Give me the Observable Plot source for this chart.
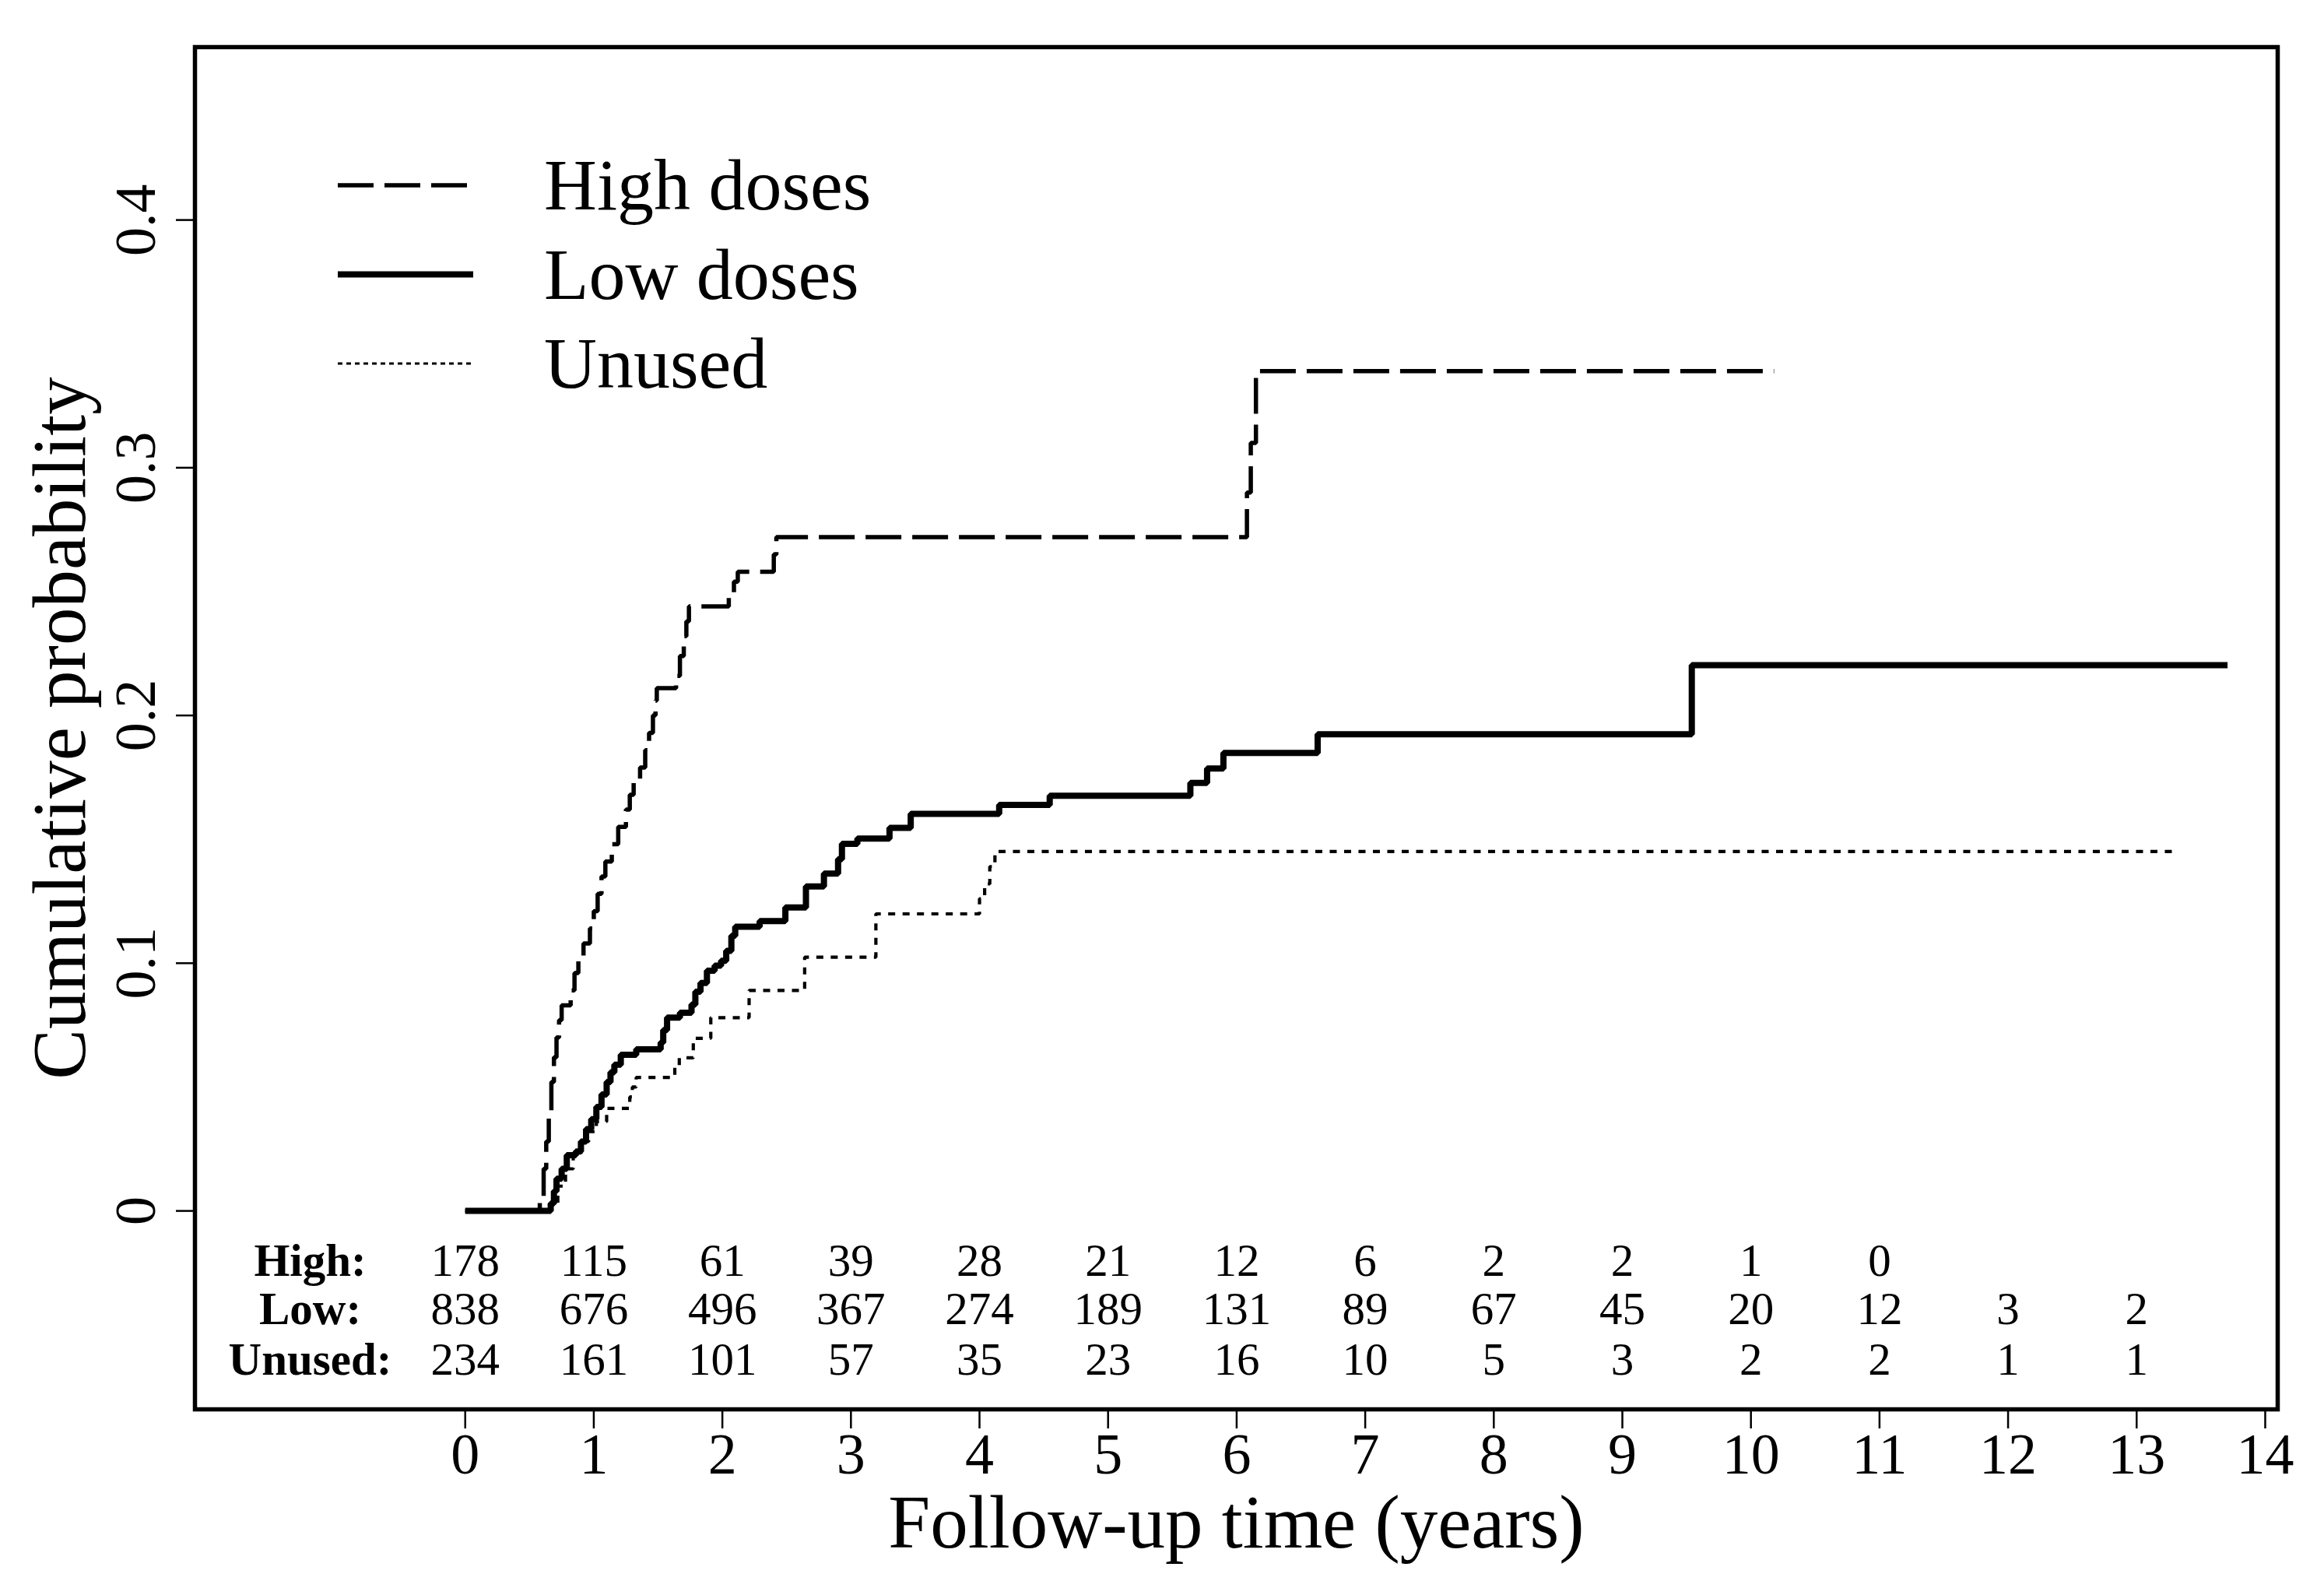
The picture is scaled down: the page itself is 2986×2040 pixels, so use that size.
<!DOCTYPE html>
<html>
<head>
<meta charset="utf-8">
<script src="https://cdn.jsdelivr.net/npm/d3@7"></script>
<script src="https://cdn.jsdelivr.net/npm/@observablehq/plot@0.6"></script>
<style>
  html, body { margin: 0; padding: 0; background: #fff; }
  svg { display: block; }
</style>
</head>
<body>
<div id="chart"></div>
<script>
// ---------------- data ----------------
const seriesNames = ["High doses", "Low doses", "Unused"];

const highTimes  = [0, 0.58, 0.61, 0.63, 0.65, 0.67, 0.69, 0.71, 0.73, 0.75, 0.82, 0.85, 0.88, 0.92, 0.97, 1.00, 1.03, 1.06, 1.09, 1.14, 1.19, 1.25, 1.28, 1.31, 1.36, 1.40, 1.43, 1.46, 1.48, 1.49, 1.64, 1.67, 1.70, 1.72, 1.74, 2.05, 2.09, 2.12, 2.40, 2.42, 6.08, 6.11, 6.15, 10.18];
const highValues = [0, 0.006, 0.017, 0.028, 0.040, 0.052, 0.062, 0.070, 0.077, 0.083, 0.089, 0.096, 0.102, 0.108, 0.114, 0.121, 0.128, 0.135, 0.141, 0.148, 0.155, 0.162, 0.168, 0.173, 0.179, 0.186, 0.193, 0.200, 0.206, 0.211, 0.216, 0.224, 0.232, 0.238, 0.244, 0.249, 0.254, 0.258, 0.265, 0.272, 0.290, 0.310, 0.339, 0.339];

const lowTimes  = [0, 0.665, 0.69, 0.71, 0.75, 0.79, 0.86, 0.90, 0.94, 0.98, 1.02, 1.06, 1.10, 1.13, 1.16, 1.21, 1.33, 1.52, 1.54, 1.57, 1.67, 1.76, 1.79, 1.83, 1.88, 1.94, 1.99, 2.03, 2.07, 2.10, 2.29, 2.49, 2.65, 2.79, 2.90, 2.93, 3.05, 3.30, 3.465, 4.153, 4.546, 5.64, 5.77, 5.897, 6.63, 9.54, 13.707];
const lowValues = [0, 0.003, 0.008, 0.013, 0.017, 0.0225, 0.024, 0.028, 0.033, 0.037, 0.042, 0.047, 0.052, 0.056, 0.059, 0.063, 0.0652, 0.068, 0.073, 0.078, 0.080, 0.0833, 0.0885, 0.092, 0.097, 0.099, 0.101, 0.105, 0.111, 0.1147, 0.117, 0.1225, 0.131, 0.1362, 0.142, 0.1482, 0.1503, 0.1546, 0.1603, 0.1639, 0.1676, 0.1728, 0.1786, 0.1849, 0.1924, 0.2203, 0.2203];

const unusedTimes  = [0, 0.665, 0.72, 0.78, 0.84, 0.90, 0.96, 1.02, 1.10, 1.28, 1.30, 1.33, 1.63, 1.665, 1.774, 1.91, 2.208, 2.64, 3.194, 4.00, 4.04, 4.08, 4.12, 13.33];
const unusedValues = [0, 0.003, 0.010, 0.017, 0.023, 0.028, 0.032, 0.036, 0.0414, 0.046, 0.050, 0.0539, 0.058, 0.0618, 0.0697, 0.078, 0.089, 0.1024, 0.1199, 0.126, 0.132, 0.139, 0.1451, 0.1451];

// numbers at risk
const riskTimes  = [0, 1, 2, 3, 4, 5, 6, 7, 8, 9, 10, 11, 12, 13];
const riskLabels = ["High:", "Low:", "Unused:"];
const highRisk   = [178, 115, 61, 39, 28, 21, 12, 6, 2, 2, 1, 0];
const lowRisk    = [838, 676, 496, 367, 274, 189, 131, 89, 67, 45, 20, 12, 3, 2];
const unusedRisk = [234, 161, 101, 57, 35, 23, 16, 10, 5, 3, 2, 2, 1, 1];

const xTicks = [0, 1, 2, 3, 4, 5, 6, 7, 8, 9, 10, 11, 12, 13, 14];
const yTicks = [0, 0.1, 0.2, 0.3, 0.4];
const xLabel = "Follow-up time (years)";
const yLabel = "Cumulative probability";

// ---------------- layout / styles ----------------
const FONT = "'Liberation Serif', 'Times New Roman', Times, serif";
const W = 2986, H = 2040;
const M = {left: 250, right: 60, top: 60, bottom: 230};
const styles = {
  "High doses": {strokeWidth: 5.5, dash: "46,14", legendWidth: 5.5, legendDash: "46,14"},
  "Low doses":  {strokeWidth: 8,   dash: null,    legendWidth: 8,   legendDash: null},
  "Unused":     {strokeWidth: 4.2, dash: "9,9.5", legendWidth: 3.2, legendDash: "6,5"}
};
const riskRowDy = [-172, -110, -45];  // baselines relative to frame bottom
const riskLabelDx = 148;               // label centre relative to frame left

const toRows = (ts, vs) => ts.map((t, i) => ({t, v: vs[i]}));
const highRows = toRows(highTimes, highValues);
const lowRows = toRows(lowTimes, lowValues);
const unusedRows = toRows(unusedTimes, unusedValues);
const riskRows = [highRisk, lowRisk, unusedRisk].map(arr => arr.map((n, i) => ({t: riskTimes[i], n})));

const lineMark = (rows, name) => Plot.line(rows, {
  x: "t", y: "v", curve: "step-after", stroke: "black",
  strokeWidth: styles[name].strokeWidth,
  strokeDasharray: styles[name].dash ?? undefined,
  strokeLinecap: "butt", strokeLinejoin: "miter"
});

const plot = Plot.plot({
  width: W, height: H,
  marginLeft: M.left, marginRight: M.right, marginTop: M.top, marginBottom: M.bottom,
  style: {fontFamily: FONT, background: "white", color: "black", overflow: "visible"},
  x: {domain: [-2.102, 14.097]},
  y: {domain: [-0.0801, 0.4698]},
  marks: [
    Plot.axisX({ticks: xTicks, tickSize: 25, tickPadding: 5, fontSize: 74, label: null,
      strokeWidth: 2.5, tickFormat: d => String(d)}),
    Plot.axisY({ticks: yTicks, tickSize: 24, tickPadding: 28, tickRotate: -90, fontSize: 74, label: null,
      strokeWidth: 2.5, tickFormat: d => String(d)}),
    Plot.text([xLabel], {frameAnchor: "bottom", dy: 177, lineAnchor: "bottom", textAnchor: "middle",
      fontSize: 97, text: d => d}),
    Plot.text([yLabel], {frameAnchor: "left", dx: -142, rotate: -90, lineAnchor: "bottom", textAnchor: "middle",
      fontSize: 97, text: d => d}),
    lineMark(highRows, "High doses"),
    lineMark(unusedRows, "Unused"),
    lineMark(lowRows, "Low doses"),
    ...riskRows.map((rows, r) => Plot.text(rows, {x: "t", frameAnchor: "bottom", dy: riskRowDy[r],
      lineAnchor: "bottom", textAnchor: "middle", fontSize: 59, text: d => String(d.n)})),
    ...riskLabels.map((lab, r) => Plot.text([lab], {frameAnchor: "bottom-left", dx: riskLabelDx, dy: riskRowDy[r],
      lineAnchor: "bottom", textAnchor: "middle", fontSize: 59, fontWeight: "bold", text: d => d})),
    Plot.frame({stroke: "black", strokeWidth: 5.5})
  ]
});

// legend (top-left inside frame)
const svg = d3.select(plot);
const lg = svg.append("g").attr("class", "legend").attr("text-anchor", "start");
const legendLayout = {x1: 434, x2: 608, textX: 699, y0: 238, step: 114.5, textDy: 31, fontSize: 94};
seriesNames.forEach((name, i) => {
  const y = legendLayout.y0 + i * legendLayout.step;
  const s = styles[name];
  lg.append("line")
    .attr("x1", legendLayout.x1).attr("x2", legendLayout.x2)
    .attr("y1", y).attr("y2", y)
    .attr("stroke", "black")
    .attr("stroke-width", s.legendWidth)
    .attr("stroke-dasharray", s.legendDash);
  lg.append("text")
    .attr("x", legendLayout.textX).attr("y", y + legendLayout.textDy)
    .attr("text-anchor", "start")
    .attr("font-family", FONT).attr("font-size", legendLayout.fontSize)
    .attr("fill", "black")
    .text(name);
});

document.getElementById("chart").appendChild(plot);
</script>
</body>
</html>
